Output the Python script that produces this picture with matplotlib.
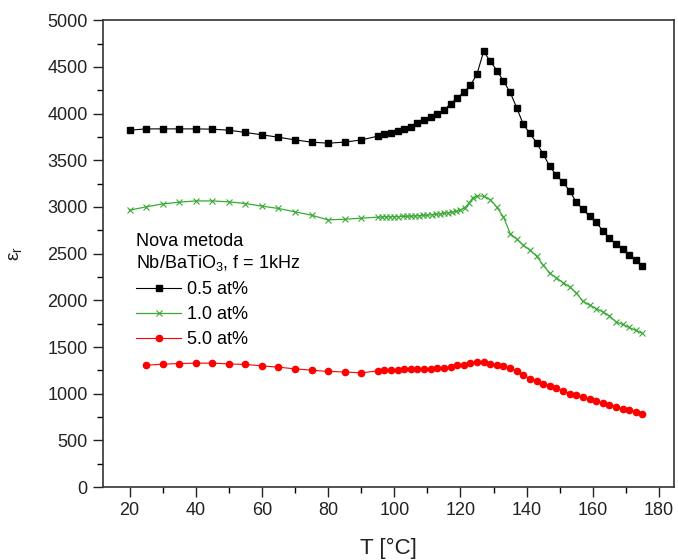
import numpy as np
import matplotlib
matplotlib.use('Agg')
import matplotlib.pyplot as plt
from matplotlib.ticker import MultipleLocator

plt.rcParams['font.family'] = ['Liberation Sans', 'DejaVu Sans']
plt.rcParams['mathtext.default'] = 'regular'

# 0.5 at%
t_05 = [20, 25, 30, 35, 40, 45, 50, 55, 60, 65, 70, 75, 80, 85, 90,
        95, 97, 99, 101, 103, 105, 107, 109, 111, 113, 115, 117, 119, 121, 123, 125, 127,
        129, 131, 133, 135, 137, 139, 141, 143, 145, 147, 149, 151, 153, 155, 157, 159,
        161, 163, 165, 167, 169, 171, 173, 175]
eps_05 = [3822, 3836, 3836, 3836, 3836, 3833, 3822, 3798, 3772, 3747, 3718, 3694, 3683, 3694, 3718,
          3758, 3776, 3793, 3812, 3830, 3851, 3894, 3929, 3958, 3994, 4036, 4104, 4168, 4229, 4301, 4425, 4665,
          4561, 4461, 4347, 4229, 4061, 3883, 3787, 3686, 3565, 3434, 3337, 3266, 3172, 3051, 2973, 2901,
          2834, 2748, 2666, 2605, 2545, 2491, 2430, 2366]

# 1.0 at%
t_10 = [20, 25, 30, 35, 40, 45, 50, 55, 60, 65, 70, 75, 80, 85, 90,
        95, 96.25, 97.5, 98.75, 100, 101.25, 102.5, 103.75, 105, 106.25, 107.5, 108.75, 110,
        111.25, 112.5, 113.75, 115, 116.25, 117.5, 118.75, 120, 121.25, 122.5, 123.75, 125, 127,
        129, 131, 133, 135, 137, 139, 141, 143, 145, 147, 149, 151, 153, 155, 157, 159,
        161, 163, 165, 167, 169, 171, 173, 175]
eps_10 = [2966, 3001, 3033, 3051, 3065, 3065, 3055, 3037, 3009, 2984, 2948, 2912, 2862, 2869, 2880,
          2891, 2893, 2895, 2896, 2897, 2898, 2899, 2900, 2902, 2904, 2907, 2910, 2913,
          2917, 2921, 2926, 2932, 2938, 2945, 2955, 2966, 2990, 3040, 3100, 3119, 3116,
          3080, 2995, 2894, 2716, 2655, 2591, 2537, 2473, 2377, 2288, 2241, 2191, 2144, 2080, 1991, 1949,
          1913, 1877, 1834, 1770, 1742, 1710, 1678, 1646]

# 5.0 at%
t_50 = [25, 30, 35, 40, 45, 50, 55, 60, 65, 70, 75, 80, 85, 90,
        95, 97, 99, 101, 103, 105, 107, 109, 111, 113, 115, 117, 119, 121, 123, 125, 127,
        129, 131, 133, 135, 137, 139, 141, 143, 145, 147, 149, 151, 153, 155, 157, 159,
        161, 163, 165, 167, 169, 171, 173, 175]
eps_50 = [1306, 1317, 1324, 1328, 1328, 1320, 1314, 1299, 1285, 1267, 1253, 1239, 1234, 1224,
          1245, 1253, 1256, 1260, 1263, 1263, 1263, 1267, 1270, 1274, 1278, 1288, 1303, 1313, 1328, 1338, 1342,
          1324, 1310, 1296, 1274, 1240, 1200, 1163, 1138, 1110, 1081, 1057, 1035, 1003, 988, 964, 942,
          921, 903, 885, 860, 839, 824, 810, 789]

labels = ['0.5 at%', '1.0 at%', '5.0 at%']

fig = plt.figure(figsize=(6.78, 5.6), dpi=100)
ax = fig.add_axes([0.152, 0.130, 0.842, 0.834])

ax.plot(t_05, eps_05, color='black', lw=0.8, marker='s', ms=4.5, label=labels[0])
ax.plot(t_10, eps_10, color='#3aaa35', lw=0.9, marker='x', ms=4.5, mew=0.8, label=labels[1])
ax.plot(t_50, eps_50, color='red', lw=0.8, marker='o', ms=4.5, label=labels[2])

ax.set_xlim(12, 184.5)
ax.set_ylim(0, 5000)
ax.xaxis.set_major_locator(MultipleLocator(20))
ax.xaxis.set_minor_locator(MultipleLocator(10))
ax.yaxis.set_major_locator(MultipleLocator(500))
ax.yaxis.set_minor_locator(MultipleLocator(250))
ax.tick_params(which='major', direction='out', length=7, width=1, labelsize=13,
               colors='#222222', pad=4)
ax.tick_params(which='minor', direction='out', length=4, width=1)
for s in ax.spines.values():
    s.set_linewidth(1.2)
    s.set_color('#333333')

ax.set_xlabel('T [°C]', fontsize=16, color='#222222', labelpad=13)
ax.set_ylabel('ε$_r$', fontsize=14, color='#222222', labelpad=17)

leg = ax.legend(title='Nova metoda\nNb/BaTiO$_3$, f = 1kHz', loc='upper left',
                bbox_to_anchor=(0.045, 0.56), frameon=False, fontsize=13,
                title_fontsize=13, alignment='left', handlelength=2.5,
                handletextpad=0.35, labelspacing=0.45, borderaxespad=0)

fig.savefig('out.png', dpi=100)
